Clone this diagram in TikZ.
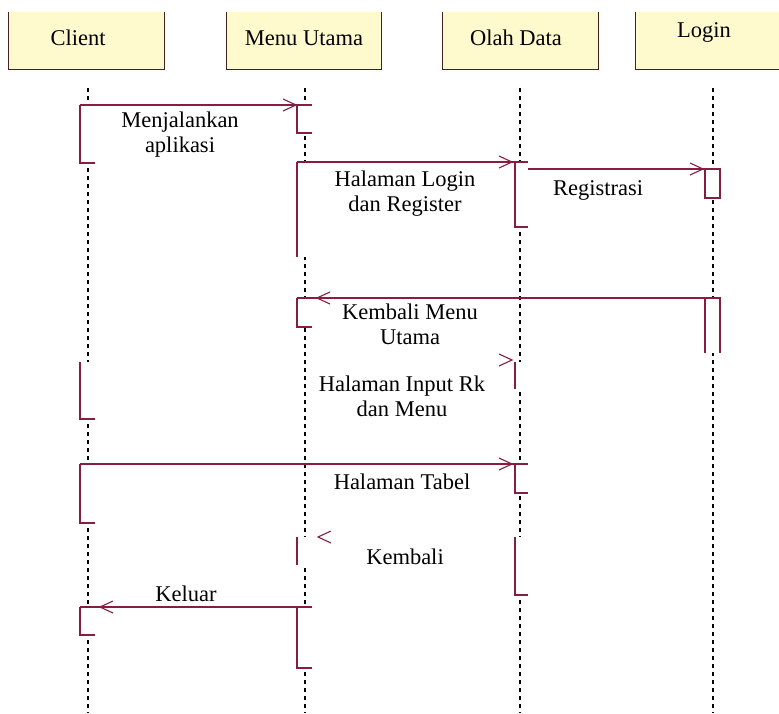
\documentclass[tikz,border=0pt]{standalone}
\usepackage{fontspec}
\setmainfont{Liberation Serif}
\usetikzlibrary{calc}
\definecolor{msgc}{RGB}{135,30,65}
\definecolor{hdrfill}{RGB}{255,250,205}
\definecolor{hdrline}{RGB}{70,35,30}
\tikzset{
  hdrbox/.style={rectangle, fill=hdrfill, minimum width=155pt, minimum height=57pt, inner sep=0},
  hdredge/.style={draw=hdrline, line width=1.3pt},
  hdrtext/.style={font=\fontsize{22.5}{26}\selectfont, inner sep=0},
  lifeline/.style={draw=black, line width=1.3pt, dash pattern=on 4pt off 4pt},
  msgline/.style={draw=msgc, line width=1.6pt},
  actedge/.style={draw=msgc, line width=1.6pt},
  headR/.style={draw=msgc, line width=1.1pt},
  lbl/.style={font=\fontsize{22.5}{25}\selectfont, align=center, inner sep=0}
}
\newcommand\tipR[1]{\draw[headR] ($(#1)+(-13,-6)$) -- (#1) -- ($(#1)+(-13,6)$);}
\newcommand\tipL[1]{\draw[headR] ($(#1)+(13,-6)$) -- (#1) -- ($(#1)+(13,6)$);}
\begin{document}
\begin{tikzpicture}[x=1pt,y=-1pt]
\useasboundingbox (0,0) rectangle (779,713);
\clip (0,0) rectangle (779,713);
\fill[white] (0,0) rectangle (779,713);

% header boxes
\node[hdrbox] (hclient) at (86.5,40.5) {};
\node[hdrbox] (hmenu) at (304,40.5) {};
\node[hdrbox] (holah) at (520.5,40.5) {};
\node[hdrbox] (hlogin) at (713,40.5) {};
\foreach \h in {hclient,hmenu,holah,hlogin}{
  \draw[hdredge] (\h.north west) |- (\h.south east) -- (\h.north east);
}
\node[hdrtext] (tclient) at (78,38) {Client};
\node[hdrtext] (tmenu) at (304,38) {Menu Utama};
\node[hdrtext] (tolah) at (516,38) {Olah Data};
\node[hdrtext] (tlogin) at (704,32) {Login};

% lifelines
\coordinate (lc1) at (88,88);  \coordinate (lc2) at (88,713);
\coordinate (lm1) at (305,88); \coordinate (lm2) at (305,713);
\coordinate (lo1) at (520,88); \coordinate (lo2) at (520,713);
\coordinate (ll1) at (713,88); \coordinate (ll2) at (713,713);
\draw[lifeline] (lc1) -- (lc2);
\draw[lifeline] (lm1) -- (lm2);
\draw[lifeline] (lo1) -- (lo2);
\draw[lifeline] (ll1) -- (ll2);

% activation areas (white, hide lifeline)
\fill[white] (80,105) rectangle (95,163);
\fill[white] (80,362) rectangle (95,419);
\fill[white] (80,464) rectangle (95,523);
\fill[white] (80,607) rectangle (95,635);
\fill[white] (297,105) rectangle (312,133);
\fill[white] (297,162) rectangle (312,257);
\fill[white] (297,298) rectangle (312,327);
\fill[white] (297,537) rectangle (312,565);
\fill[white] (297,607) rectangle (312,668);
\fill[white] (515,162) rectangle (528,227);
\fill[white] (515,362) rectangle (528,389);
\fill[white] (515,464) rectangle (528,493);
\fill[white] (515,537) rectangle (528,595);
\fill[white] (705,169) rectangle (720,198);
\fill[white] (705,298) rectangle (720,353);

% activation edges
\draw[actedge] (80,105) |- (95,163);
\draw[actedge] (80,362) |- (95,419);
\draw[actedge] (80,464) |- (95,523);
\draw[actedge] (80,607) |- (95,635);
\draw[actedge] (297,105) |- (312,133);
\draw[actedge] (297,162) -- (297,257);
\draw[actedge] (297,298) |- (312,327);
\draw[actedge] (297,537) -- (297,565);
\draw[actedge] (297,607) |- (312,668);
\draw[actedge] (515,162) |- (528,227);
\draw[actedge] (515,362) -- (515,389);
\draw[actedge] (515,464) |- (528,493);
\draw[actedge] (515,537) |- (528,595);
\draw[actedge] (705,169) rectangle (720,198);
\draw[actedge] (705,353) -- (705,298) -- (720,298) -- (720,353);

% messages
\coordinate (m1a) at (80,105);  \coordinate (m1b) at (312,105); \coordinate (m1t) at (296,105);
\coordinate (m2a) at (297,162); \coordinate (m2b) at (528,162); \coordinate (m2t) at (512,162);
\coordinate (m3a) at (528,169); \coordinate (m3b) at (705,169); \coordinate (m3t) at (703,169);
\coordinate (m4a) at (720,298); \coordinate (m4b) at (297,298); \coordinate (m4t) at (317,298);
\coordinate (m5t) at (512,360);
\coordinate (m6a) at (80,464);  \coordinate (m6b) at (528,464); \coordinate (m6t) at (512,464);
\coordinate (m7t) at (318,537);
\coordinate (m8a) at (312,607); \coordinate (m8b) at (80,607);  \coordinate (m8t) at (100,607);

\draw[msgline] (m1a) -- (m1b); \tipR{m1t}
\draw[msgline] (m2a) -- (m2b); \tipR{m2t}
\draw[msgline] (m3a) -- (m3b); \tipR{m3t}
\draw[msgline] (m4a) -- (m4b); \tipL{m4t}
\tipR{m5t}
\draw[msgline] (m6a) -- (m6b); \tipR{m6t}
\tipL{m7t}
\draw[msgline] (m8a) -- (m8b); \tipL{m8t}

% labels
\node[lbl] (l1) at (180,135) {Menjalankan\\aplikasi};
\node[lbl] (l2) at (405,194) {Halaman Login\\dan Register};
\node[lbl] (l3) at (598,190) {Registrasi};
\node[lbl] (l4) at (410,324) {Kembali Menu\\Utama};
\node[lbl] (l5) at (402,396) {Halaman Input Rk\\dan Menu};
\node[lbl] (l6) at (402,482) {Halaman Tabel};
\node[lbl] (l7) at (405,557) {Kembali};
\node[lbl] (l8) at (186,594) {Keluar};
\end{tikzpicture}
\end{document}
